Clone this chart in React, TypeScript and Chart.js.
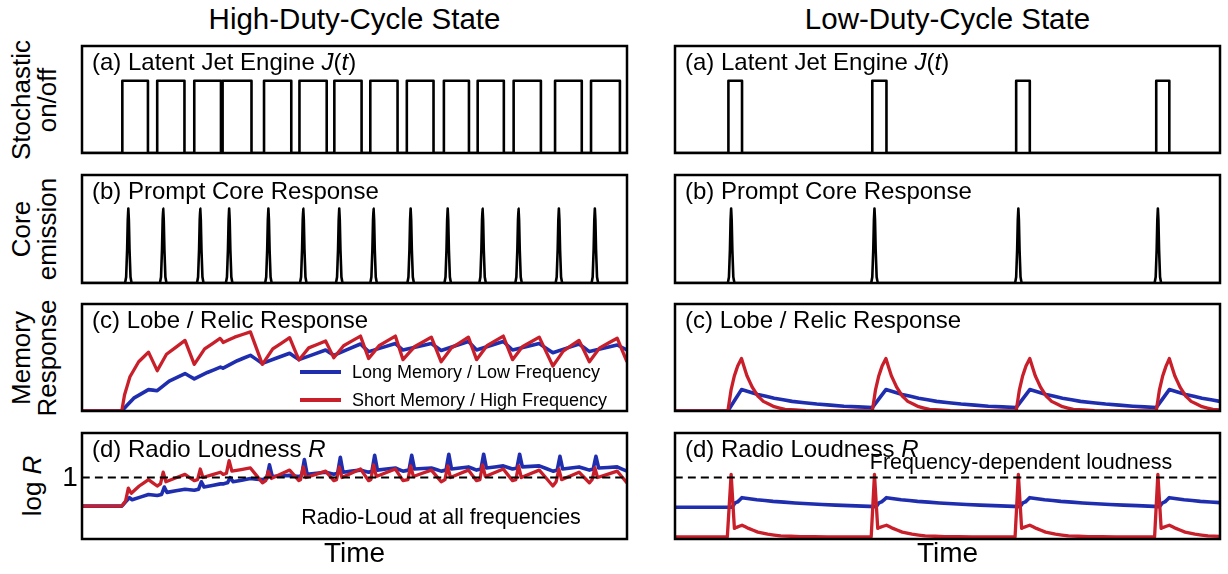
import React, { useEffect, useRef } from "react";
import { Chart, registerables } from "chart.js";
Chart.register(...registerables);

// ---------- data (time in arbitrary units 0..100, responses in panel-relative units) ----------
const HIGH_ON = [7.4, 13.8, 20.6, 25.8, 33.4, 39.9, 46.3, 52.9, 59.6, 66.4, 72.6, 79.2, 86.8, 93.4];
const HIGH_OFF = [12.1, 18.8, 25.5, 31.1, 38.4, 44.9, 51.3, 57.9, 64.5, 71.0, 77.4, 84.2, 91.7, 98.7];
const HIGH_SPIKES = [8.5, 14.9, 21.7, 27.0, 34.2, 40.6, 47.2, 53.5, 60.3, 67.1, 73.5, 80.1, 87.5, 94.1];

const LOW_ON = [9.8, 36.2, 62.6, 88.3];
const LOW_OFF = [12.3, 38.8, 65.1, 90.7];
const LOW_SPIKES = [10.3, 36.6, 63.0, 88.6];

const SPIKE_OFFSETS = [-0.6, -0.4, -0.22, -0.1, 0, 0.1, 0.22, 0.4, 0.6];
const SPIKE_SHAPE = [0, 0.08, 0.45, 0.85, 1, 0.85, 0.45, 0.08, 0];

const LOUD_THRESHOLD = 0.58;

const HIGH_LOBE_SHORT: [number, number][] = [
  [0, 0], [7.3, 0], [7.8, 0.15], [8.8, 0.32], [10.4, 0.46], [12.2, 0.55], [13.8, 0.377], [15.5, 0.53], [18.9, 0.66],
  [20.6, 0.436], [22.5, 0.58], [25.4, 0.68], [25.9, 0.64], [28, 0.69], [30.9, 0.74], [33.1, 0.436], [35, 0.58],
  [38.1, 0.685], [39.8, 0.477], [41.6, 0.59], [44.7, 0.654], [46.2, 0.498], [48, 0.61], [51.1, 0.7], [52.6, 0.49],
  [54.5, 0.61], [57.5, 0.7], [58.9, 0.48], [61, 0.6], [64.1, 0.69], [65.9, 0.46], [67.8, 0.59], [70.9, 0.69],
  [72.4, 0.48], [74.3, 0.61], [77.3, 0.7], [79, 0.48], [80.8, 0.6], [83.9, 0.69], [86.4, 0.42], [88.3, 0.56],
  [91.2, 0.66], [93.1, 0.46], [95, 0.59], [98.2, 0.68], [100, 0.46],
];
const HIGH_LOBE_LONG: [number, number][] = [
  [0, 0], [7.3, 0], [9.5, 0.12], [12.2, 0.2], [13.8, 0.19], [16, 0.28], [18.9, 0.35], [20.6, 0.3], [23, 0.36],
  [25.4, 0.41], [25.9, 0.4], [28.5, 0.47], [30.9, 0.52], [33.1, 0.445], [38.1, 0.54], [39.8, 0.48], [44.7, 0.57],
  [46.2, 0.52], [51.1, 0.626], [52.6, 0.555], [57.5, 0.63], [58.9, 0.57], [64.1, 0.63], [65.9, 0.565], [70.9, 0.65],
  [72.4, 0.57], [77.3, 0.65], [79, 0.57], [83.9, 0.63], [86.4, 0.545], [91.2, 0.626], [93.1, 0.555], [98.2, 0.617],
  [100, 0.57],
];
const HIGH_LOUD_SHORT: [number, number][] = [
  [0, 0.31], [7.3, 0.31], [8.0, 0.36], [8.5, 0.48], [9.0, 0.43], [10.5, 0.5], [12.2, 0.56], [13.8, 0.5], [14.4, 0.52],
  [14.9, 0.63], [15.4, 0.54], [18.9, 0.61], [20.6, 0.55], [21.2, 0.56], [21.7, 0.66], [22.2, 0.58], [25.4, 0.63],
  [25.9, 0.61], [26.5, 0.62], [27.0, 0.74], [27.5, 0.64], [30.9, 0.67], [33.1, 0.53], [33.7, 0.55], [34.2, 0.64],
  [34.7, 0.57], [38.1, 0.65], [39.8, 0.55], [40.1, 0.56], [40.6, 0.68], [41.1, 0.58], [44.7, 0.64], [46.2, 0.55],
  [46.7, 0.56], [47.2, 0.68], [47.7, 0.58], [51.1, 0.66], [52.6, 0.55], [53.0, 0.56], [53.5, 0.7], [54.0, 0.59],
  [57.5, 0.66], [58.9, 0.55], [59.8, 0.56], [60.3, 0.69], [60.8, 0.59], [64.1, 0.65], [65.9, 0.54], [66.6, 0.56],
  [67.1, 0.69], [67.6, 0.58], [70.9, 0.65], [72.4, 0.55], [73.0, 0.56], [73.5, 0.7], [74.0, 0.59], [77.3, 0.66],
  [79, 0.55], [79.6, 0.56], [80.1, 0.69], [80.6, 0.58], [83.9, 0.65], [86.4, 0.5], [87.0, 0.54], [87.5, 0.66],
  [88.0, 0.56], [91.2, 0.63], [93.1, 0.53], [93.6, 0.56], [94.1, 0.67], [94.6, 0.58], [98.2, 0.64], [100, 0.53],
];
const HIGH_LOUD_LONG: [number, number][] = [
  [0, 0.31], [7.3, 0.31], [8.0, 0.35], [8.7, 0.39], [9.2, 0.37], [12.2, 0.42], [13.8, 0.41], [14.6, 0.42], [15.1, 0.49],
  [15.6, 0.44], [18.9, 0.47], [20.6, 0.46], [21.4, 0.47], [21.9, 0.54], [22.4, 0.49], [25.4, 0.52], [25.9, 0.52],
  [26.7, 0.53], [27.2, 0.58], [27.7, 0.54], [30.9, 0.57], [33.1, 0.56], [33.9, 0.57], [34.4, 0.7], [34.9, 0.59],
  [38.1, 0.6], [39.8, 0.59], [40.3, 0.6], [40.8, 0.75], [41.3, 0.61], [44.7, 0.63], [46.2, 0.61], [46.9, 0.62],
  [47.4, 0.77], [47.9, 0.63], [51.1, 0.65], [52.6, 0.63], [53.2, 0.64], [53.7, 0.79], [54.2, 0.65], [57.5, 0.67],
  [58.9, 0.64], [60.0, 0.65], [60.5, 0.79], [61.0, 0.66], [64.1, 0.67], [65.9, 0.64], [66.8, 0.65], [67.3, 0.8],
  [67.8, 0.66], [70.9, 0.68], [72.4, 0.65], [73.2, 0.66], [73.7, 0.8], [74.2, 0.67], [77.3, 0.69], [79, 0.66],
  [79.8, 0.67], [80.3, 0.8], [80.8, 0.68], [83.9, 0.69], [86.4, 0.64], [87.2, 0.65], [87.7, 0.78], [88.2, 0.66],
  [91.2, 0.68], [93.1, 0.65], [93.8, 0.66], [94.3, 0.78], [94.8, 0.67], [98.2, 0.68], [100, 0.64],
];

const LOW_LOBE_SHORT: [number, number][] = [
  [0, 0], [9.7, 0], [10.3, 0.2], [10.9, 0.33], [11.5, 0.42], [12.2, 0.49], [13.2, 0.33], [14.2, 0.22], [15.2, 0.14],
  [16.2, 0.09], [18.2, 0.04], [20.2, 0.015], [24, 0.004], [30, 0], [36.2, 0], [36.8, 0.2], [37.4, 0.33], [38.0, 0.42],
  [38.7, 0.49], [39.7, 0.33], [40.7, 0.22], [41.7, 0.14], [42.7, 0.09], [44.7, 0.04], [46.7, 0.015], [50.5, 0.004],
  [56, 0], [62.6, 0], [63.2, 0.2], [63.8, 0.33], [64.4, 0.42], [65.1, 0.49], [66.1, 0.33], [67.1, 0.22], [68.1, 0.14],
  [69.1, 0.09], [71.1, 0.04], [73.1, 0.015], [77, 0.004], [82, 0], [88.3, 0], [88.9, 0.2], [89.5, 0.33], [90.1, 0.42],
  [90.7, 0.49], [91.7, 0.33], [92.7, 0.22], [93.7, 0.14], [94.7, 0.09], [96.7, 0.04], [98.7, 0.015], [100, 0.01],
];
const LOW_LOBE_LONG: [number, number][] = [
  [0, 0], [9.7, 0], [12.2, 0.2], [15.2, 0.155], [18.2, 0.12], [21.5, 0.09], [26, 0.065], [31, 0.045], [36.2, 0.032],
  [38.7, 0.2], [41.7, 0.155], [44.7, 0.12], [48, 0.09], [52.5, 0.065], [57.5, 0.045], [62.6, 0.032], [65.1, 0.2],
  [68.1, 0.155], [71.1, 0.12], [74.4, 0.09], [79, 0.065], [84, 0.045], [88.3, 0.032], [90.7, 0.2], [93.7, 0.155],
  [96.7, 0.12], [100, 0.09],
];
const LOW_LOUD_SHORT: [number, number][] = [
  [0, 0.02], [9.6, 0.02], [10.3, 0.61], [10.9, 0.1], [11.3, 0.11], [12.3, 0.13], [13.5, 0.1], [15.2, 0.065], [17, 0.045],
  [19.4, 0.03], [23, 0.022], [28, 0.02], [36.0, 0.02], [36.6, 0.61], [37.2, 0.1], [37.6, 0.11], [38.8, 0.13], [40, 0.1],
  [41.7, 0.065], [43.5, 0.045], [45.9, 0.03], [49.5, 0.022], [54.5, 0.02], [62.4, 0.02], [63.0, 0.61], [63.6, 0.1],
  [64.0, 0.11], [65.1, 0.13], [66.3, 0.1], [68, 0.065], [69.8, 0.045], [72.2, 0.03], [75.8, 0.022], [80.8, 0.02],
  [88.0, 0.02], [88.6, 0.61], [89.2, 0.1], [89.6, 0.11], [90.7, 0.13], [91.9, 0.1], [93.6, 0.065], [95.4, 0.045],
  [97.8, 0.03], [100, 0.025],
];
const LOW_LOUD_LONG: [number, number][] = [
  [0, 0.3], [10.5, 0.3], [11.0, 0.34], [11.5, 0.35], [12.3, 0.39], [15, 0.37], [18, 0.355], [22, 0.34], [27, 0.325],
  [32, 0.315], [36.9, 0.305], [37.4, 0.34], [37.9, 0.35], [38.8, 0.39], [41.5, 0.37], [44.5, 0.355], [48.5, 0.34],
  [53.5, 0.325], [58.5, 0.315], [63.3, 0.305], [63.8, 0.34], [64.3, 0.35], [65.1, 0.39], [67.8, 0.37], [70.8, 0.355],
  [74.8, 0.34], [79.8, 0.325], [84.8, 0.315], [88.9, 0.305], [89.4, 0.34], [89.9, 0.35], [90.7, 0.39], [93.4, 0.37],
  [96.4, 0.355], [100, 0.343],
];

// ---------- styling ----------
const BLUE = "#1f2eae";
const RED = "#c81f2a";
const FONT = '"Liberation Sans", Arial, Helvetica, sans-serif';
const PAD = 6;
const COL_X = [82, 675];
const COL_W = 545;
const ROW_Y = [46, 175, 304, 433];
const ROW_H = [107, 108, 107, 106];

// ---------- builders ----------
const pts = (arr: [number, number][]) => arr.map(([x, y]) => ({ x, y }));
function pulseTrain(on: number[], off: number[]) {
  const out = [{ x: 0, y: 0 }];
  on.forEach((t, i) => {
    out.push({ x: t, y: 0 }, { x: t, y: 1 }, { x: off[i], y: 1 }, { x: off[i], y: 0 });
  });
  out.push({ x: 100, y: 0 });
  return out;
}
function spikeTrain(centers: number[]) {
  const out = [{ x: 0, y: 0 }];
  centers.forEach((c) => {
    SPIKE_OFFSETS.forEach((o, i) => out.push({ x: c + o, y: SPIKE_SHAPE[i] }));
  });
  out.push({ x: 100, y: 0 });
  return out;
}
// a tiny tension keeps Chart.js off its pixel-column "fast path", so narrow spikes stay intact
const line = (data: any[], color: string, width: number, extra: any = {}) => ({
  data,
  borderColor: color,
  borderWidth: width,
  pointRadius: 0,
  fill: false,
  tension: 0.00001,
  borderJoinStyle: "round",
  borderCapStyle: "butt",
  ...extra,
});
const threshold = () =>
  line([{ x: 0, y: LOUD_THRESHOLD }, { x: 100, y: LOUD_THRESHOLD }], "#000", 2.2, { borderDash: [8, 5] });

const framePlugin = {
  id: "frame",
  afterDatasetsDraw(chart: any) {
    const { ctx, chartArea: a } = chart;
    ctx.save();
    ctx.strokeStyle = "#000";
    ctx.lineWidth = 2.5;
    ctx.strokeRect(a.left, a.top, a.right - a.left, a.bottom - a.top);
    ctx.restore();
  },
};

function Panel({ col, row, datasets, yMax }: { col: number; row: number; datasets: any[]; yMax: number }) {
  const ref = useRef<HTMLCanvasElement>(null);
  const w = COL_W + 2 * PAD;
  const h = ROW_H[row] + 2 * PAD;
  useEffect(() => {
    const chart = new Chart(ref.current as HTMLCanvasElement, {
      type: "line",
      data: { datasets },
      options: {
        animation: false,
        responsive: false,
        maintainAspectRatio: false,
        layout: { padding: PAD },
        scales: {
          x: { type: "linear", min: 0, max: 100, display: false },
          y: { type: "linear", min: 0, max: yMax, display: false },
        },
        plugins: { legend: { display: false }, tooltip: { enabled: false } },
      },
      plugins: [framePlugin],
    } as any);
    return () => chart.destroy();
  }, []);
  return (
    <canvas
      ref={ref}
      width={w}
      height={h}
      style={{ position: "absolute", left: COL_X[col] - PAD, top: ROW_Y[row] - PAD, width: w, height: h }}
    />
  );
}

function Txt({ x, y, size, children, anchor = "left" }: any) {
  const style: any = {
    position: "absolute",
    top: y,
    fontSize: size,
    lineHeight: "1",
    whiteSpace: "nowrap",
    transform: anchor === "center" ? "translate(-50%, -50%)" : "translate(0, -50%)",
    left: x,
  };
  return <div style={style}>{children}</div>;
}

function VLabel({ lines, cx, cy, size, lh }: any) {
  const H = lines.length * lh;
  return (
    <div
      style={{
        position: "absolute",
        left: cx - 150,
        top: cy - H / 2,
        width: 300,
        height: H,
        lineHeight: lh + "px",
        fontSize: size,
        textAlign: "center",
        transform: "rotate(-90deg)",
        transformOrigin: "50% 50%",
        whiteSpace: "nowrap",
      }}
    >
      {lines.map((l: any, i: number) => (
        <div key={i}>{l}</div>
      ))}
    </div>
  );
}

export default function App() {
  const labelX = [92, 685];
  const rowMid = ROW_Y.map((y, i) => y + ROW_H[i] / 2);
  const colMid = COL_X.map((x) => x + COL_W / 2);
  const jt = (
    <>
      (a) Latent Jet Engine <i>J</i>(<i>t</i>)
    </>
  );
  return (
    <div style={{ position: "absolute", left: 0, top: 0, width: 1228, height: 574, background: "#fff", fontFamily: FONT, color: "#000" }}>
      {/* High duty cycle column */}
      <Panel col={0} row={0} yMax={1.48} datasets={[line(pulseTrain(HIGH_ON, HIGH_OFF), "#000", 2.6)]} />
      <Panel col={0} row={1} yMax={1.45} datasets={[line(spikeTrain(HIGH_SPIKES), "#000", 2.6)]} />
      <Panel col={0} row={2} yMax={1} datasets={[line(pts(HIGH_LOBE_SHORT), RED, 3.3), line(pts(HIGH_LOBE_LONG), BLUE, 3.6)]} />
      <Panel col={0} row={3} yMax={1} datasets={[threshold(), line(pts(HIGH_LOUD_SHORT), RED, 3.3), line(pts(HIGH_LOUD_LONG), BLUE, 3.6)]} />
      {/* Low duty cycle column */}
      <Panel col={1} row={0} yMax={1.48} datasets={[line(pulseTrain(LOW_ON, LOW_OFF), "#000", 2.6)]} />
      <Panel col={1} row={1} yMax={1.45} datasets={[line(spikeTrain(LOW_SPIKES), "#000", 2.6)]} />
      <Panel col={1} row={2} yMax={1} datasets={[line(pts(LOW_LOBE_SHORT), RED, 3.3), line(pts(LOW_LOBE_LONG), BLUE, 3.6)]} />
      <Panel col={1} row={3} yMax={1} datasets={[threshold(), line(pts(LOW_LOUD_SHORT), RED, 3.3), line(pts(LOW_LOUD_LONG), BLUE, 3.6)]} />

      {/* column titles */}
      <Txt x={colMid[0]} y={19} size={29.5} anchor="center">High-Duty-Cycle State</Txt>
      <Txt x={colMid[1]} y={19} size={29.5} anchor="center">Low-Duty-Cycle State</Txt>

      {/* panel labels */}
      {[0, 1].map((c) => (
        <React.Fragment key={c}>
          <Txt x={labelX[c]} y={ROW_Y[0] + 16} size={24}>{jt}</Txt>
          <Txt x={labelX[c]} y={ROW_Y[1] + 16} size={24}>(b) Prompt Core Response</Txt>
          <Txt x={labelX[c]} y={ROW_Y[2] + 16} size={24}>(c) Lobe / Relic Response</Txt>
          <Txt x={labelX[c]} y={ROW_Y[3] + 16} size={24}>
            (d) Radio Loudness <i>R</i>
          </Txt>
          <Txt x={colMid[c]} y={553} size={28} anchor="center">Time</Txt>
        </React.Fragment>
      ))}

      {/* legend in (c) high */}
      <div style={{ position: "absolute", left: 300, top: 370.2, width: 41, height: 3.6, background: BLUE }} />
      <div style={{ position: "absolute", left: 300, top: 398.3, width: 41, height: 3.3, background: RED }} />
      <Txt x={352} y={372} size={18}>Long Memory / Low Frequency</Txt>
      <Txt x={352} y={400} size={18}>Short Memory / High Frequency</Txt>

      {/* annotations */}
      <Txt x={441} y={518} size={21.5} anchor="center">Radio-Loud at all frequencies</Txt>
      <Txt x={1021} y={463} size={21.5} anchor="center">Frequency-dependent loudness</Txt>

      {/* y labels */}
      <VLabel lines={["Stochastic", "on/off"]} cx={34} cy={rowMid[0]} size={26} lh={26} />
      <VLabel lines={["Core", "emission"]} cx={34} cy={rowMid[1]} size={26} lh={26} />
      <VLabel lines={["Memory", "Response"]} cx={34} cy={rowMid[2]} size={26} lh={26} />
      <VLabel lines={[<>log <i>R</i></>]} cx={32} cy={rowMid[3]} size={26} lh={26} />
      <Txt x={70} y={477} size={28} anchor="center">1</Txt>
    </div>
  );
}
